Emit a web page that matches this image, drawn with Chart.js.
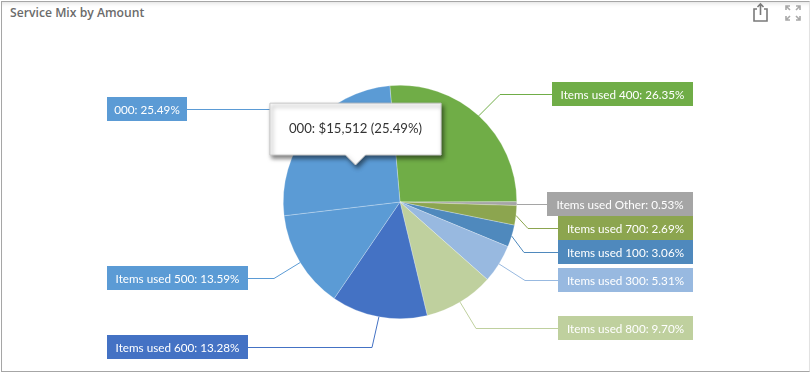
<!DOCTYPE html>
<html>
<head>
<meta charset="utf-8">
<script src="https://cdn.jsdelivr.net/npm/chart.js@4/dist/chart.umd.min.js"></script>
<style>
html,body{margin:0;padding:0;background:#fff;overflow:hidden}
#panel{position:absolute;left:1px;top:1px;width:809px;height:371px;box-sizing:border-box;border:1px solid #a6a6a6;border-right-color:#e2e2e2;box-shadow:inset 0 5px 5px -4px #ddd}
#title{position:absolute;left:10px;top:4px;font:600 12.2px "Open Sans",sans-serif;color:#6b6b6b}
#chart{position:absolute;left:0;top:0}
svg{position:absolute}
</style>
</head>
<body>
<div id="panel"></div>
<div id="title">Service Mix by Amount</div>
<canvas id="chart" width="811" height="373"></canvas>
<svg style="left:752px;top:2px" width="18" height="20" fill="none" stroke="#7a7a7a" stroke-width="1.6">
<path d="M5 7H2V19H15V7H12M8.5 13V2M5.5 5L8.5 2L11.5 5"/>
</svg>
<svg style="left:785px;top:5px" width="16" height="16" fill="none" stroke="#a8a8a8" stroke-width="1.6">
<path d="M1 5V1H5M1 1L5 5M11 1H15V5M15 1L11 5M1 11V15H5M1 15L5 11M11 15H15V11M15 15L11 11"/>
</svg>
<script>
const categories = ["Items used 400","Items used Other","Items used 700","Items used 100","Items used 300","Items used 800","Items used 600","Items used 500","000"];
const shares = [26.35,0.53,2.69,3.06,5.31,9.70,13.28,13.59,25.49];
const amountLabel = "$15,512";
const colors = ["#70ad47","#a5a5a5","#8ca54f","#4f89bd","#98b9e0","#bfd09e","#4472c4","#5b9bd5","#5b9bd5"];

// box: left, top, right, bottom / elbow of the leader line
const boxes = [
  [552,82,693,106,[500,94]],
  [547,192,693,216,[517,204]],
  [558,216,693,240,[528,228]],
  [558,240,693,264,[524,252]],
  [558,268,693,292,[525,280]],
  [558,316,693,340,[476,328]],
  [107,335,248,359,[372,347]],
  [107,266,248,290,[274,278]],
  [107,97,187,121,[290,109]]
];

const calloutPlugin = {
  id:"callouts",
  afterDatasetsDraw(chart){
    const ctx = chart.ctx;
    chart.getDatasetMeta(0).data.forEach((arc,i)=>{
      const p = arc.getProps(["x","y","startAngle","endAngle","outerRadius"],true);
      const mid = (p.startAngle+p.endAngle)/2;
      const b = boxes[i];
      const sx = p.x+Math.cos(mid)*p.outerRadius;
      const sy = p.y+Math.sin(mid)*p.outerRadius;
      const left = b[0]>p.x;
      const midY = (b[1]+b[3])/2;
      ctx.save();
      ctx.strokeStyle = colors[i];
      ctx.lineWidth = 1;
      ctx.beginPath();
      ctx.moveTo(sx,sy);
      ctx.lineTo(b[4][0],midY+0.5);
      ctx.lineTo(left?b[0]:b[2],midY+0.5);
      ctx.stroke();
      ctx.fillStyle = colors[i];
      ctx.fillRect(b[0],b[1],b[2]-b[0],b[3]-b[1]);
      ctx.fillStyle = "#fff";
      ctx.font = '11.7px Lato,sans-serif';
      ctx.textAlign = "center";
      ctx.textBaseline = "middle";
      ctx.fillText(categories[i]+": "+shares[i].toFixed(2)+"%",(b[0]+b[2])/2,midY+1);
      ctx.restore();
    });
  },
  beforeTooltipDraw(chart){
    const ctx = chart.ctx;
    ctx.save();
    ctx.shadowColor = "rgba(0,0,0,0.5)";
    ctx.shadowBlur = 4;
    ctx.shadowOffsetX = 2;
    ctx.shadowOffsetY = 3;
  },
  afterTooltipDraw(chart){
    chart.ctx.restore();
  }
};

Chart.Tooltip.positioners.fixedTip = function(){
  return {x:355.5,y:167};
};

const chart = new Chart(document.getElementById("chart"),{
  type:"pie",
  data:{
    labels:categories,
    datasets:[{
      data:shares,
      backgroundColor:colors,
      hoverBackgroundColor:colors,
      borderColor:"rgba(255,255,255,0.5)",
      hoverBorderColor:"rgba(255,255,255,0.5)",
      borderWidth:0.5,
      hoverOffset:0
    }]
  },
  options:{
    responsive:false,
    animation:false,
    rotation:-5,
    layout:{padding:{left:283,right:294,top:85,bottom:54}},
    events:[],
    plugins:{
      legend:{display:false},
      tooltip:{
        position:"fixedTip",
        yAlign:"bottom",
        xAlign:"center",
        backgroundColor:"#fff",
        borderColor:"#c8c8c8",
        borderWidth:1,
        cornerRadius:0,
        caretSize:10,
        displayColors:false,
        bodyColor:"#333",
        bodyFont:{family:'Lato,sans-serif',size:13.2},
        padding:{x:19,y:18},
        callbacks:{
          title:()=>"",
          label:item=>item.label+": "+amountLabel+" ("+shares[item.dataIndex].toFixed(2)+"%)"
        }
      }
    }
  },
  plugins:[calloutPlugin]
});

// shadow only on the tooltip box, not its text
const drawBody = chart.tooltip.drawBody;
chart.tooltip.drawBody = function(pt,ctx,opts){
  ctx.shadowColor = "transparent";
  drawBody.call(this,pt,ctx,opts);
};

chart.tooltip.setActiveElements([{datasetIndex:0,index:8}],{x:355,y:167});
chart.update();
</script>
</body>
</html>
